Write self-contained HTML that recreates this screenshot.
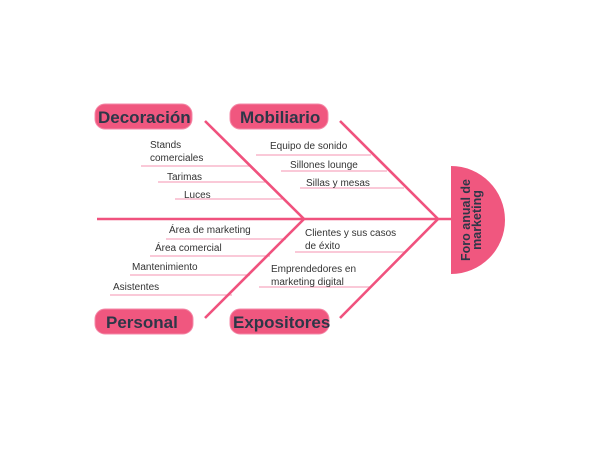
<!DOCTYPE html>
<html><head><style>
html,body{margin:0;padding:0;background:#fff;width:600px;height:450px;overflow:hidden}
svg text{font-family:"Liberation Sans",sans-serif}
</style></head><body>
<svg width="600" height="450" viewBox="0 0 600 450" xmlns="http://www.w3.org/2000/svg">
<g stroke="#f7a9c0" stroke-width="1.3">
<line x1="141" y1="166" x2="249" y2="166"/>
<line x1="158" y1="182" x2="265" y2="182"/>
<line x1="175" y1="199" x2="282" y2="199"/>
<line x1="256" y1="155" x2="371" y2="155"/>
<line x1="281" y1="171" x2="387" y2="171"/>
<line x1="300" y1="188" x2="404" y2="188"/>
<line x1="166" y1="239" x2="286" y2="239"/>
<line x1="150" y1="256" x2="270" y2="256"/>
<line x1="130" y1="275" x2="250" y2="275"/>
<line x1="110" y1="295" x2="232" y2="295"/>
<line x1="295" y1="252" x2="405" y2="252"/>
<line x1="259" y1="287" x2="370" y2="287"/>
</g>
<g stroke="#f0527e" stroke-width="2.6" fill="none">
<line x1="97" y1="219" x2="451" y2="219"/>
<polyline points="205,121 304,219 205,318"/>
<polyline points="340,121 438,219 340,318"/>
</g>
<path d="M451 166 A54 54 0 0 1 451 274 Z" fill="#f0577f"/>
<text transform="translate(472,220) rotate(-90)" text-anchor="middle" font-size="12.5" font-weight="bold" fill="#2e3748"><tspan x="0" y="-2">Foro anual de</tspan><tspan x="0" y="9">marketing</tspan></text>
<g fill="#f0577f" stroke="#f48aa8" stroke-width="1">
<rect x="95" y="104" width="97" height="25" rx="10"/>
<rect x="230" y="104" width="98" height="25" rx="10"/>
<rect x="95" y="309" width="98" height="25" rx="10"/>
<rect x="230" y="309" width="99" height="25" rx="10"/>
</g>
<g font-size="17" font-weight="bold" fill="#2e3748">
<text x="98" y="123">Decoración</text>
<text x="240" y="123">Mobiliario</text>
<text x="106" y="328">Personal</text>
<text x="233" y="328">Expositores</text>
</g>
<g font-size="10" fill="#333">
<text x="150" y="148">Stands</text>
<text x="150" y="161">comerciales</text>
<text x="167" y="180">Tarimas</text>
<text x="184" y="198">Luces</text>
<text x="270" y="149">Equipo de sonido</text>
<text x="290" y="168">Sillones lounge</text>
<text x="306" y="186">Sillas y mesas</text>
<text x="169" y="233">Área de marketing</text>
<text x="155" y="251">Área comercial</text>
<text x="132" y="270">Mantenimiento</text>
<text x="113" y="290">Asistentes</text>
<text x="305" y="236">Clientes y sus casos</text>
<text x="305" y="249">de éxito</text>
<text x="271" y="272">Emprendedores en</text>
<text x="271" y="285">marketing digital</text>
</g>
</svg>
</body></html>
